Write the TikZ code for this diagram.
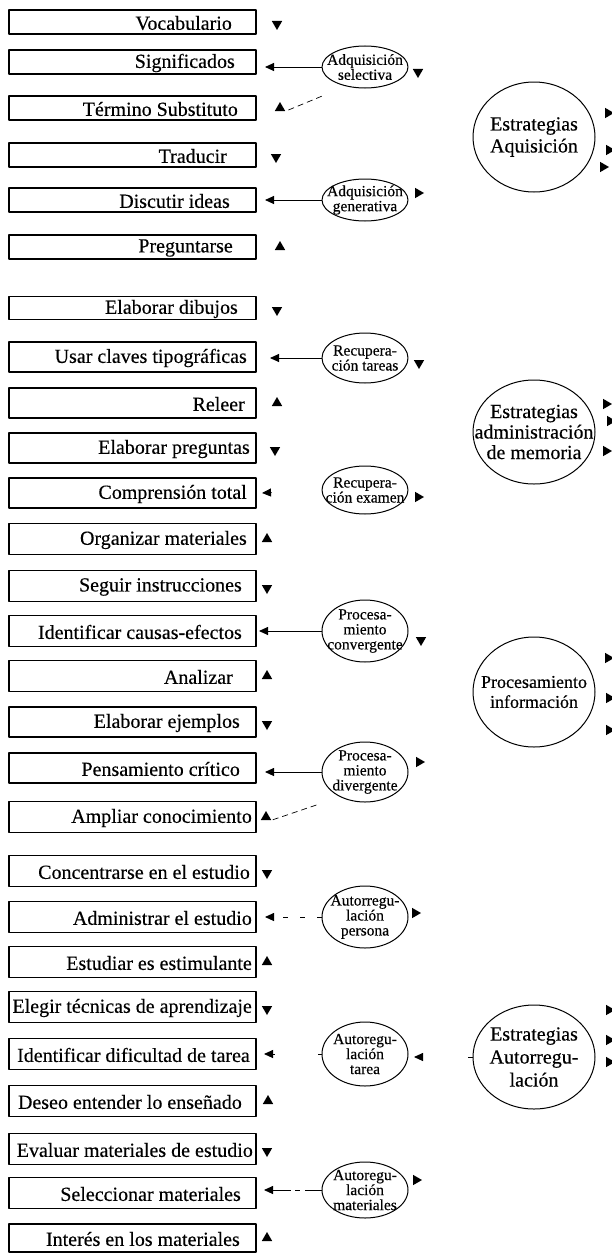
\documentclass[tikz,border=0pt]{standalone}
\usepackage{fontspec}
\setmainfont{Liberation Serif}[FakeBold=0.35]
\usetikzlibrary{arrows.meta,shapes.geometric}

\begin{document}
\begin{tikzpicture}[x=1pt,y=-1pt,line join=round,
  box/.style={draw,line width=1.1pt,minimum width=247pt,inner sep=0pt},
  boxtext/.style={anchor=east,inner sep=0pt,font=\fontsize{20}{20}\selectfont},
  small/.style={ellipse,draw,line width=1pt,inner sep=0pt,minimum width=86pt},
  smalltext/.style={inner sep=0pt,align=center,font=\fontsize{15.5}{15}\selectfont},
  big/.style={ellipse,draw,line width=1pt,inner sep=0pt,minimum width=122pt},
  bigtext/.style={inner sep=0pt,align=center,font=\fontsize{20}{22}\selectfont},
  tri/.style={regular polygon,regular polygon sides=3,fill,draw=none,inner sep=0pt,minimum size=12pt},
  dn/.style={tri,shape border rotate=180},
  up/.style={tri},
  rt/.style={tri,shape border rotate=-90},
  lt/.style={tri,shape border rotate=90},
  conn/.style={line width=0.9pt,-{Triangle[length=9pt,width=8pt]}},
  diag/.style={line width=0.7pt,dash pattern=on 6pt off 4pt},
]
\useasboundingbox (0,0) rectangle (612,1255);

% activity boxes, one per row: number / centre y / height / right end of text / text
\foreach \i/\y/\h/\tx/\txt in {
  1/22/24/232/Vocabulario,
  2/62/24/235/Significados,
  3/108/24/238/Término Substituto,
  4/155/24/227/Traducir,
  5/200/24/230/Discutir ideas,
  6/247/24/233/Preguntarse,
  7/308/23/238/Elaborar dibujos,
  8/357/30/247/Usar claves tipográficas,
  9/403/30/245/Releer,
  10/448/30/250/Elaborar preguntas,
  11/493/30/247/Comprensión total,
  12/539/31/247/Organizar materiales,
  13/586/31/242/Seguir instrucciones,
  14/631/31/242/Identificar causas-efectos,
  15/676/31/233/Analizar,
  16/722/30/240/Elaborar ejemplos,
  17/768/30/240/Pensamiento crítico,
  18/817/31/252/Ampliar conocimiento,
  19/871/31/250/Concentrarse en el estudio,
  20/917/31/252/Administrar el estudio,
  21/962/31/252/Estudiar es estimulante,
  22/1007/31/252/Elegir técnicas de aprendizaje,
  23/1054/31/250/Identificar dificultad de tarea,
  24/1101/31/242/Deseo entender lo enseñado,
  25/1149/31/253/Evaluar materiales de estudio,
  26/1193/31/241/Seleccionar materiales,
  27/1238/28/240/Interés en los materiales}
{
  \node[box,minimum height=\h pt] (b\i) at (132.5,\y) {};
  \node[boxtext] (t\i) at (\tx,\y+1) {\txt};
}

% down markers (first row of each triple) and up markers (third row)
\foreach \i/\x/\y in {1/277/22,4/276/155,7/277/308,10/275/448,13/267/586,
                      16/267/722,19/267/871,22/267/1007,25/267/1149}
  \node[dn] (m\i) at (\x,\y+2) {};
\foreach \i/\x/\y in {3/280/108,6/280/247,9/277/403,12/267/539,15/267/676,
                      18/266/817,21/267/962,24/268/1101,27/267/1238}
  \node[up] (m\i) at (\x,\y) {};

% second-level strategies: outline, then wording
\node[small,minimum height=42pt] (sel) at (365,67)   {};
\node[small,minimum height=42pt] (gen) at (365,200)  {};
\node[small,minimum height=50pt] (tar) at (365,358)  {};
\node[small,minimum height=48pt] (exa) at (365,490)  {};
\node[small,minimum height=62pt] (con) at (365,631)  {};
\node[small,minimum height=60pt] (div) at (365,772)  {};
\node[small,minimum height=62pt] (per) at (365,917)  {};
\node[small,minimum height=64pt] (tsk) at (365,1054) {};
\node[small,minimum height=56pt] (mat) at (365,1190) {};
\node[smalltext] (selt) at (sel) {Adquisición\\selectiva};
\node[smalltext] (gent) at (gen) {Adquisición\\generativa};
\node[smalltext] (tart) at (tar) {Recupera-\\ción tareas};
\node[smalltext] (exat) at (exa) {Recupera-\\ción examen};
\node[smalltext] (cont) at (con) {Procesa-\\miento\\convergente};
\node[smalltext] (divt) at (div) {Procesa-\\miento\\divergente};
\node[smalltext] (pert) at (per) {Autorregu-\\lación\\persona};
\node[smalltext] (tskt) at (tsk) {Autoregu-\\lación\\tarea};
\node[smalltext] (matt) at (mat) {Autoregu-\\lación\\materiales};

% main strategies: outline, then wording
\node[big,minimum height=110pt] (acq) at (534,137)  {};
\node[big,minimum height=104pt] (mem) at (534,432)  {};
\node[big,minimum height=110pt] (inf) at (534,692)  {};
\node[big,minimum height=104pt] (aut) at (534,1057) {};
\node[bigtext] (acqt) at (acq) {Estrategias\\Aquisición};
\node[bigtext,font=\fontsize{20}{20.5}\selectfont] (memt) at (mem) {Estrategias\\administración\\de memoria};
\node[bigtext,font=\fontsize{18}{20}\selectfont] (inft) at (inf) {Procesamiento\\información};
\node[bigtext,font=\fontsize{20}{23}\selectfont] (autt) at (aut) {Estrategias\\Autorregu-\\lación};

% markers beside the second-level strategies
\node[dn] (msel) at (418,72)   {};
\node[rt] (mgen) at (418,193)  {};
\node[dn] (mtar) at (419,363)  {};
\node[rt] (mexa) at (418,497)  {};
\node[dn] (mcon) at (421,640)  {};
\node[rt] (mdiv) at (419,762)  {};
\node[rt] (mper) at (415,913)  {};
\node[rt] (mmat) at (416,1180) {};

% markers at the right edge of the main strategies
\foreach \n/\x/\y in {a1/608/113,a2/609/150,a3/603/167,
                      b1/606/404,b2/610/421,b3/606/451,
                      c1/608/658,c2/609/698,c3/609/730,
                      d1/609/1010,d2/609/1040,d3/609/1062}
  \node[rt] (e\n) at (\x,\y) {};

% arrow ends at the boxes
\coordinate (p2)  at (265,67);
\coordinate (p5)  at (265,200);
\coordinate (p8)  at (270,358);
\coordinate (p11) at (262,493);
\coordinate (p14) at (259,631);
\coordinate (p17) at (265,772);
\coordinate (p20) at (265,917);
\coordinate (p23) at (264,1054);
\coordinate (p26) at (264,1190);
\coordinate (ptsk) at (414,1057);

% connectors from the strategies to their activities
\draw[conn] (sel.west) -- (p2);
\draw[conn] (gen.west) -- (p5);
\draw[conn] (tar.west) -- (p8);
\draw[conn,dash pattern=on 0pt off 50pt on 1.5pt off 50pt] (exa.west) -- (p11);
\draw[conn] (con.west) -- (p14);
\draw[conn] (div.west) -- (p17);
\draw[conn,dash pattern=on 5pt off 12pt] (per.west) -- (p20);
\draw[conn,dash pattern=on 4pt off 43pt on 1.5pt off 50pt] (tsk.west) -- (p23);
\draw[conn,dash pattern=on 17pt off 5pt on 5pt off 4pt on 40pt] (mat.west) -- (p26);
\draw[conn,dash pattern=on 5pt off 100pt] (aut.west) -- (ptsk);

% dashed links to the up markers
\draw[diag,shorten <=26pt] (sel.225) -- (m3.corner 3);
\draw[diag,shorten <=25pt] (div.225) -- (m18.corner 3);
\end{tikzpicture}
\end{document}
